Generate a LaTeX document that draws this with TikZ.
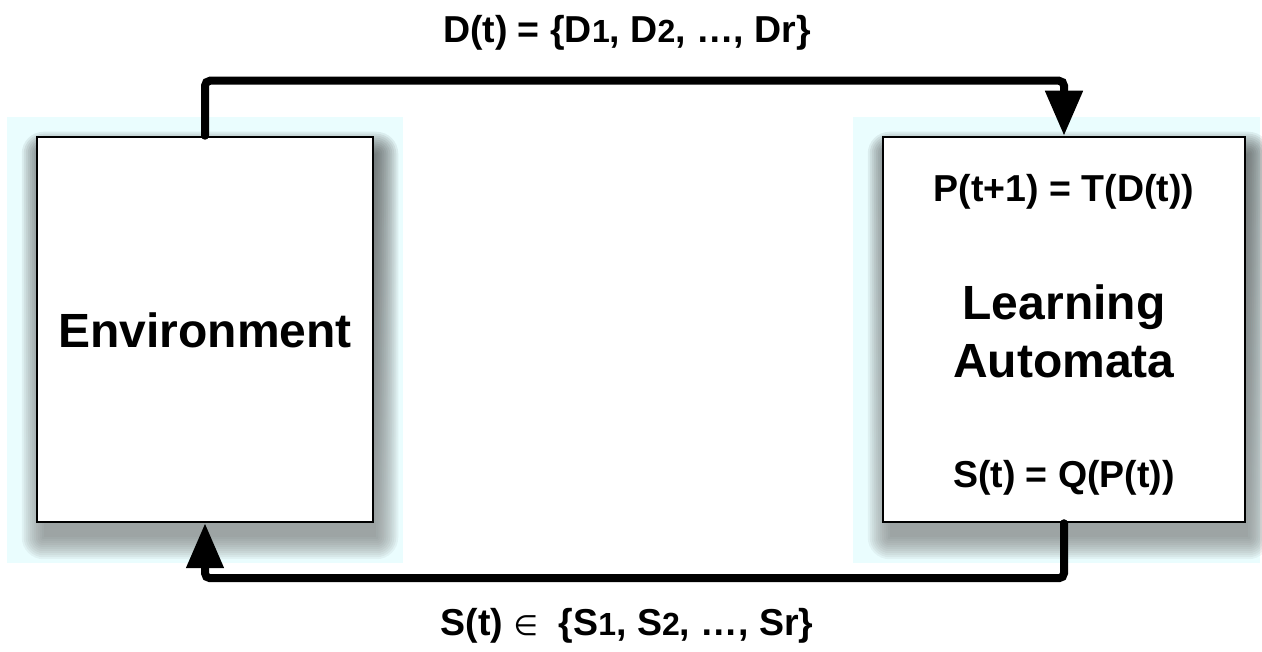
\documentclass[tikz,border=0pt]{standalone}
\usepackage{fontspec}
\setmainfont{Liberation Sans}
\newfontfamily\symfont{DejaVu Sans}
\usetikzlibrary{arrows.meta,positioning,backgrounds}
\definecolor{panel}{RGB}{234,253,254}
\definecolor{shade}{RGB}{60,80,150}
\newcommand{\sm}[1]{{\fontsize{32}{32}\selectfont #1}}

\begin{document}
\begin{tikzpicture}[x=1pt,y=1pt]
  \useasboundingbox(0,0)rectangle(1262,652);
  \tikzstyle{blk}=[draw,line width=2.5pt,fill=white,minimum width=336pt,minimum height=385pt,inner sep=0pt]
  \tikzstyle{big}=[anchor=base,inner sep=0pt,font=\fontsize{48}{48}\selectfont\bfseries]
  \tikzstyle{eq}=[anchor=base,inner sep=0pt,font=\fontsize{37.5}{37.5}\selectfont\bfseries]
  \node[blk](env)at(205,322.5){};
  \node[blk,minimum width=362pt](la)at(1064,322.5){};
  \node[big](envtxt)at(205,304){Environment};
  \node[eq](upd)at(1064,450){P(t+1) = T(D(t))};
  \node[big](la1)at(1064,332){Learning};
  \node[big](la2)at(1064,274){Automata};
  \node[eq](act)at(1064,164){S(t) = Q(P(t))};
  \node[eq](dset)at(627,609){D(t) = \{D\sm1, D\sm2, …, Dr\}};
  \node[eq](sset)at(627,16){S(t) {\symfont\mdseries\fontsize{28}{28}\selectfont ∈} \ \{S\sm1, S\sm2, …, Sr\}};
  % panels and soft shadows behind the boxes
  \begin{scope}[on background layer]
    \fill[panel](7,89)rectangle(403,535);
    \fill[panel](853,89)rectangle(1260,535);
    \foreach\b in{env,la}{
      \foreach\s in{0,2,...,22}{
        \fill[shade,opacity=0.042,rounded corners={\s*1pt}]([xshift={(8-\s)*1pt},yshift={(-14-\s)*1pt}]\b.south west)rectangle([xshift={(2+\s)*1pt},yshift={(\s-18)*1pt}]\b.north east);}}
  \end{scope}
  \tikzstyle{e}=[-{Triangle[length=45pt,width=36pt]},line width=8pt,line cap=round,rounded corners=5pt]
  \draw[e](env.north)--++(0,55)-|(la.north);
  \draw[e](la.south)--++(0,-55)-|(env.south);
\end{tikzpicture}
\end{document}
